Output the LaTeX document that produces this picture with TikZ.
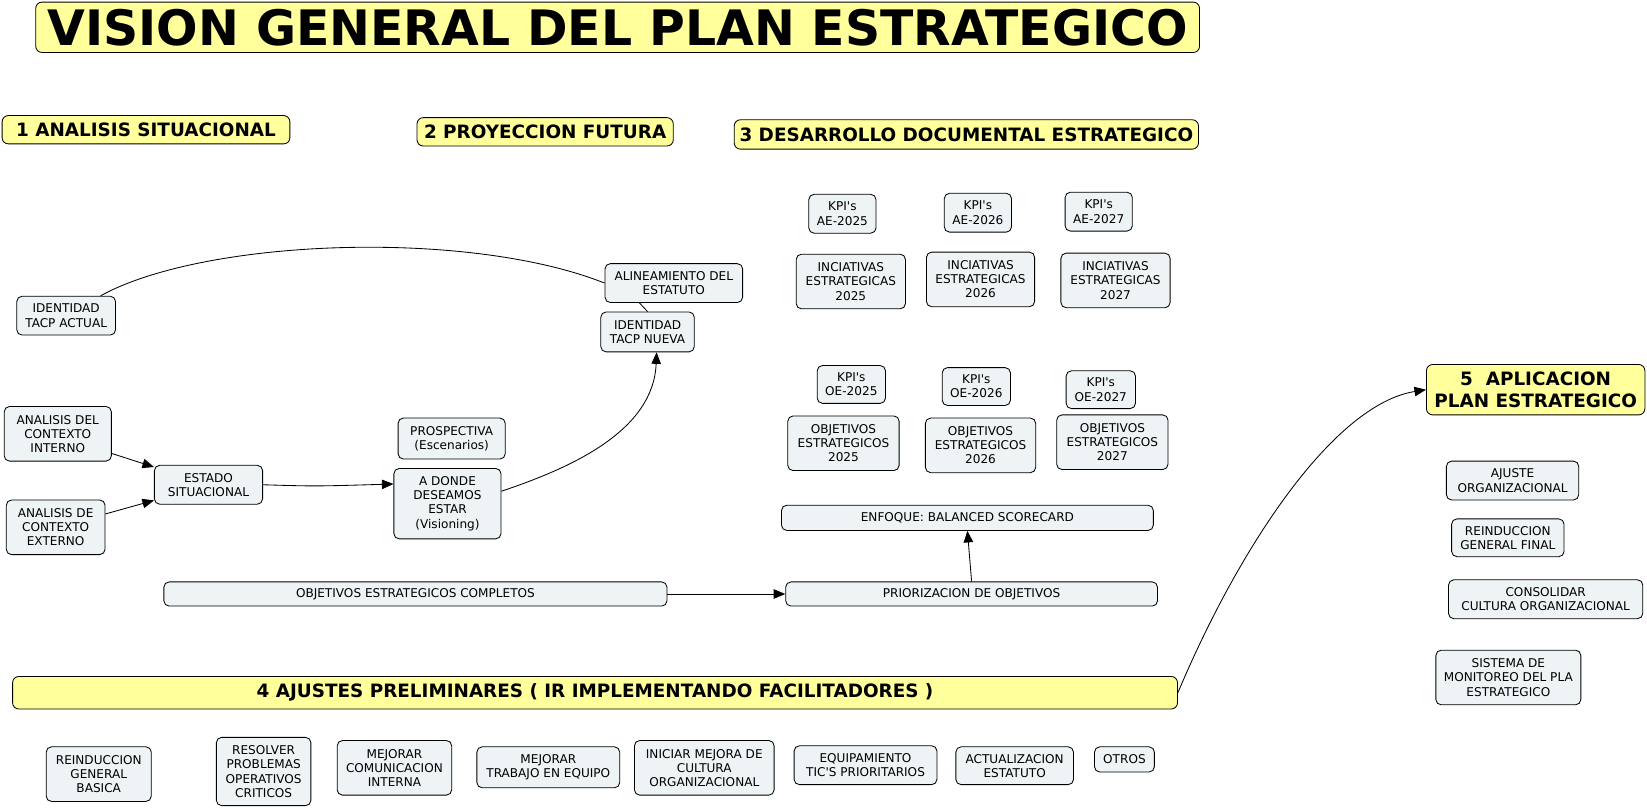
\documentclass[tikz,border=0pt]{standalone}
\usepackage{fontspec}
\setmainfont{DejaVu Sans}
\usetikzlibrary{arrows.meta}
\definecolor{headyellow}{RGB}{255,255,155}
\definecolor{conceptfill}{RGB}{238,243,245}
\newcommand{\kpis}{KPI\textquotesingle s}
\begin{document}
\begin{tikzpicture}[x=1pt,y=-1pt,
    concept/.style={draw, rounded corners=5pt, fill=conceptfill, line width=0.8pt,
      align=center, inner sep=1pt, font=\fontsize{11.5}{13.5}\selectfont},
    header/.style={draw, rounded corners=6pt, fill=headyellow, line width=0.8pt,
      align=center, inner sep=1pt, font=\bfseries\fontsize{17.5}{21}\selectfont},
    link/.style={line width=0.8pt},
    arrow/.style={line width=0.8pt, -{Triangle[length=11pt,width=9pt]}}]
  \useasboundingbox (0,0) rectangle (1568,770);
  % Title
  \node[header, minimum width=1108, minimum height=48,
    font=\bfseries\fontsize{46.5}{50}\selectfont] (title) at (588,26)
    {VISION GENERAL DEL PLAN ESTRATEGICO};
  % Section headers
  \node[header, minimum width=274, minimum height=27] (analisis) at (139,123.5)
    {1 ANALISIS SITUACIONAL};
  \node[header, minimum width=244, minimum height=27] (proyeccion) at (519,125.5)
    {2 PROYECCION FUTURA};
  \node[header, minimum width=442, minimum height=28] (desarrollo) at (920,128)
    {3 DESARROLLO DOCUMENTAL ESTRATEGICO};
  \node[header, minimum width=1109, minimum height=31] (ajustes) at (566.5,659.5)
    {4 AJUSTES PRELIMINARES ( IR IMPLEMENTANDO FACILITADORES )};
  \node[header, minimum width=208, minimum height=48] (aplicacion) at (1462,371)
    {5\ \ APLICACION\\PLAN ESTRATEGICO};
  % 1 - 2: situational analysis and projection
  \node[concept, minimum width=94, minimum height=37] (tacpactual) at (63,300.5)
    {IDENTIDAD\\TACP ACTUAL};
  \node[concept, minimum width=131, minimum height=37] (alineamiento) at (641.5,269.5)
    {ALINEAMIENTO DEL\\ESTATUTO};
  \node[concept, minimum width=89, minimum height=38] (tacpnueva) at (616.5,316)
    {IDENTIDAD\\TACP NUEVA};
  \node[concept, minimum width=102, minimum height=52] (interno) at (55,413)
    {ANALISIS DEL\\CONTEXTO\\INTERNO};
  \node[concept, minimum width=94, minimum height=52] (externo) at (53,502)
    {ANALISIS DE\\CONTEXTO\\EXTERNO};
  \node[concept, minimum width=103, minimum height=37] (estado) at (198.5,461.5)
    {ESTADO\\SITUACIONAL};
  \node[concept, minimum width=102, minimum height=39] (prospectiva) at (430,417.5)
    {PROSPECTIVA\\(Escenarios)};
  \node[concept, minimum width=102, minimum height=67] (adonde) at (426,479.5)
    {A DONDE\\DESEAMOS\\ESTAR\\(Visioning)};
  \node[concept, minimum width=479, minimum height=23] (completos) at (395.5,565.5)
    {OBJETIVOS ESTRATEGICOS COMPLETOS};
  % 3: strategic documents
  \node[concept, minimum width=354, minimum height=23] (priorizacion) at (925,565.5)
    {PRIORIZACION DE OBJETIVOS};
  \node[concept, minimum width=354, minimum height=24] (enfoque) at (921,493)
    {ENFOQUE: BALANCED SCORECARD};
  \node[concept, minimum width=64, minimum height=37] (kpiae25) at (802,203.5) {\kpis\\AE-2025};
  \node[concept, minimum width=64, minimum height=37] (kpiae26) at (931,202.5) {\kpis\\AE-2026};
  \node[concept, minimum width=64, minimum height=37] (kpiae27) at (1046,201.5) {\kpis\\AE-2027};
  \node[concept, minimum width=104, minimum height=52] (ini25) at (810,268)
    {INCIATIVAS\\ESTRATEGICAS\\2025};
  \node[concept, minimum width=103, minimum height=52] (ini26) at (933.5,266)
    {INCIATIVAS\\ESTRATEGICAS\\2026};
  \node[concept, minimum width=104, minimum height=52] (ini27) at (1062,267)
    {INCIATIVAS\\ESTRATEGICAS\\2027};
  \node[concept, minimum width=65, minimum height=36] (kpioe25) at (810.5,366) {\kpis\\OE-2025};
  \node[concept, minimum width=65, minimum height=36] (kpioe26) at (929.5,368) {\kpis\\OE-2026};
  \node[concept, minimum width=66, minimum height=36] (kpioe27) at (1048,371) {\kpis\\OE-2027};
  \node[concept, minimum width=106, minimum height=52] (obj25) at (803,422)
    {OBJETIVOS\\ESTRATEGICOS\\2025};
  \node[concept, minimum width=105, minimum height=52] (obj26) at (933.5,424)
    {OBJETIVOS\\ESTRATEGICOS\\2026};
  \node[concept, minimum width=106, minimum height=52] (obj27) at (1059,421)
    {OBJETIVOS\\ESTRATEGICOS\\2027};
  % 5: application
  \node[concept, minimum width=126, minimum height=37] (ajuste) at (1440,457.5)
    {AJUSTE\\ORGANIZACIONAL};
  \node[concept, minimum width=107, minimum height=36] (reindfinal) at (1435.5,512)
    {REINDUCCION\\GENERAL FINAL};
  \node[concept, minimum width=185, minimum height=37] (consolidar) at (1471.5,570.5)
    {CONSOLIDAR\\CULTURA ORGANIZACIONAL};
  \node[concept, minimum width=138, minimum height=52] (monitoreo) at (1436,645)
    {SISTEMA DE\\MONITOREO DEL PLA\\ESTRATEGICO};
  % 4: preliminary adjustments
  \node[concept, minimum width=100, minimum height=52] (reindbasica) at (94,737)
    {REINDUCCION\\GENERAL\\BASICA};
  \node[concept, minimum width=90, minimum height=65] (resolver) at (251,734.5)
    {RESOLVER\\PROBLEMAS\\OPERATIVOS\\CRITICOS};
  \node[concept, minimum width=109, minimum height=52] (comunicacion) at (375.5,731)
    {MEJORAR\\COMUNICACION\\INTERNA};
  \node[concept, minimum width=136, minimum height=39] (trabajo) at (522,730.5)
    {MEJORAR\\TRABAJO EN EQUIPO};
  \node[concept, minimum width=133, minimum height=52] (cultura) at (670.5,731)
    {INICIAR MEJORA DE\\CULTURA\\ORGANIZACIONAL};
  \node[concept, minimum width=136, minimum height=37] (equipamiento) at (824,728.5)
    {EQUIPAMIENTO\\TIC\textquotesingle S PRIORITARIOS};
  \node[concept, minimum width=112, minimum height=36] (estatuto) at (966,729)
    {ACTUALIZACION\\ESTATUTO};
  \node[concept, minimum width=57, minimum height=24] (otros) at (1070.5,723) {OTROS};
  % Connectors
  \draw[link] (tacpactual.30) .. controls (195,227) and (446,218) .. (alineamiento.west);
  \draw[link] (alineamiento.210) -- (tacpnueva.north);
  \draw[arrow] (interno.-20) -- (estado.162);
  \draw[arrow] (externo.15) -- (estado.-164);
  \draw[arrow] (estado.east) .. controls (300,463) .. (adonde.160);
  \draw[arrow] (adonde.13) .. controls (545,445) and (622,410) .. (tacpnueva.-66);
  \draw[arrow] (completos.east) -- (priorizacion.west);
  \draw[arrow] (priorizacion.north) -- (enfoque.south);
  \draw[arrow] (ajustes.east) .. controls (1180,520) and (1270,385) .. (aplicacion.west);
\end{tikzpicture}
\end{document}
